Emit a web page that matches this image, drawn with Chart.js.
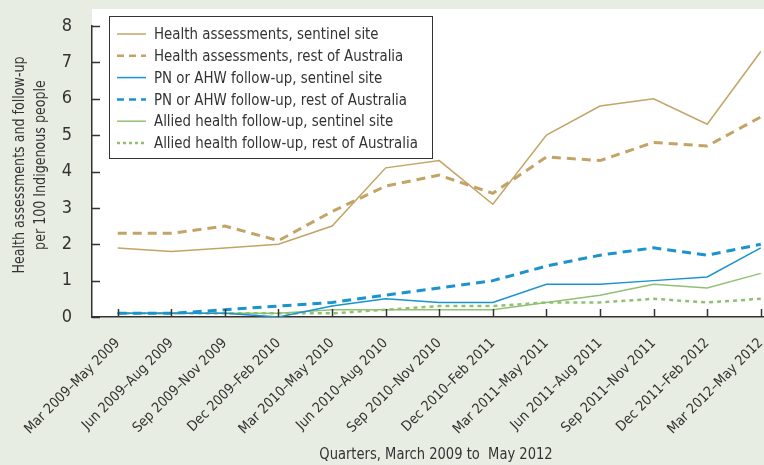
<!DOCTYPE html>
<html>
<head>
<meta charset="utf-8">
<script src="https://cdn.jsdelivr.net/npm/chart.js@4/dist/chart.umd.min.js"></script>
<style>
html,body{margin:0;padding:0;background:#e8ede3;}
canvas{display:block;}
</style>
</head>
<body>
<canvas id="c" width="764" height="465"></canvas>
<script>
const categories = ["Mar 2009\u2013May 2009","Jun 2009\u2013Aug 2009","Sep 2009\u2013Nov 2009","Dec 2009\u2013Feb 2010","Mar 2010\u2013May 2010","Jun 2010\u2013Aug 2010","Sep 2010\u2013Nov 2010","Dec 2010\u2013Feb 2011","Mar 2011\u2013May 2011","Jun 2011\u2013Aug 2011","Sep 2011\u2013Nov 2011","Dec 2011\u2013Feb 2012","Mar 2012\u2013May 2012"];
const healthSentinel = [1.9,1.8,1.9,2.0,2.5,4.1,4.3,3.1,5.0,5.8,6.0,5.3,7.3];
const healthRest     = [2.3,2.3,2.5,2.1,2.9,3.6,3.9,3.4,4.4,4.3,4.8,4.7,5.5];
const pnSentinel     = [0.1,0.1,0.1,0.0,0.3,0.5,0.4,0.4,0.9,0.9,1.0,1.1,1.9];
const pnRest         = [0.1,0.1,0.2,0.3,0.4,0.6,0.8,1.0,1.4,1.7,1.9,1.7,2.0];
const alliedSentinel = [0.1,0.1,0.1,0.1,0.2,0.2,0.2,0.2,0.4,0.6,0.9,0.8,1.2];
const alliedRest     = [0.1,0.1,0.1,0.1,0.1,0.2,0.3,0.3,0.4,0.4,0.5,0.4,0.5];
const yTicks = [0,1,2,3,4,5,6,7,8];
const seriesLabels = ["Health assessments, sentinel site","Health assessments, rest of Australia","PN or AHW follow-up, sentinel site","PN or AHW follow-up, rest of Australia","Allied health follow-up, sentinel site","Allied health follow-up, rest of Australia"];
const xTitle = "Quarters, March 2009 to  May 2012";
const yTitle = ["Health assessments and follow-up","per 100 Indigenous people"];

const FONT = "'Liberation Sans Narrow','DejaVu Sans Condensed','Roboto Condensed',sans-serif";
const TAN = '#c3a466', BLUE = '#1a93cf', GREEN = '#92c073', INK = '#333333', BG = '#e8ede3';

function pts(arr){ return arr.map((v,i)=>({x:i,y:v})); }
const styles = [
  {c:TAN, w:1.5, d:[]},
  {c:TAN, w:3, d:[9,6]},
  {c:BLUE, w:1.5, d:[]},
  {c:BLUE, w:3, d:[9,6]},
  {c:GREEN, w:1.5, d:[]},
  {c:GREEN, w:2.5, d:[4,4]}
];
const series = [healthSentinel, healthRest, pnSentinel, pnRest, alliedSentinel, alliedRest];
const datasets = series.map((s,i)=>({
  label: seriesLabels[i], data: pts(s), borderColor: styles[i].c, borderWidth: styles[i].w,
  borderDash: styles[i].d, pointRadius: 0, tension: 0, fill: false, borderCapStyle:'butt'
}));

function squeezedText(ctx, text, x, y, sx){
  ctx.save(); ctx.translate(x, y); ctx.scale(sx, 1); ctx.fillText(text, 0, 0); ctx.restore();
}

const decor = {
  id:'decor',
  beforeDraw(chart){
    const {ctx, chartArea:a} = chart;
    ctx.save();
    ctx.fillStyle = BG; ctx.fillRect(0,0,chart.width,chart.height);
    ctx.fillStyle = '#ffffff'; ctx.fillRect(a.left, 9, a.right-a.left, a.bottom-9);
    ctx.restore();
  },
  afterDraw(chart){
    const {ctx, chartArea:a, scales} = chart;
    ctx.save();
    // inward tick marks
    ctx.strokeStyle = INK; ctx.lineWidth = 1.5; ctx.setLineDash([]);
    yTicks.forEach(v=>{ const y = Math.round(scales.y.getPixelForValue(v))+0.5; ctx.beginPath(); ctx.moveTo(a.left, y); ctx.lineTo(a.left+8, y); ctx.stroke(); });
    categories.forEach((_,i)=>{ const x = Math.round(scales.x.getPixelForValue(i))+0.5; ctx.beginPath(); ctx.moveTo(x, a.bottom); ctx.lineTo(x, a.bottom-8); ctx.stroke(); });
    // y title
    ctx.fillStyle = INK; ctx.font = "16px " + FONT; ctx.textAlign='center'; ctx.textBaseline='middle';
    ctx.save();
    ctx.translate(30, 165); ctx.rotate(-Math.PI/2);
    squeezedText(ctx, yTitle[0], 0, -10, 0.88);
    squeezedText(ctx, yTitle[1], 0, 10.5, 0.88);
    ctx.restore();
    // x title
    squeezedText(ctx, xTitle, 436, 455, 0.91);
    // legend
    const lx=109.5, ly=16.5, lw=323, lh=142;
    ctx.fillStyle='#ffffff'; ctx.fillRect(lx,ly,lw,lh);
    ctx.strokeStyle=INK; ctx.lineWidth=1; ctx.strokeRect(lx,ly,lw,lh);
    ctx.font = "16px " + FONT; ctx.textAlign='left'; ctx.textBaseline='middle';
    chart.data.datasets.forEach((ds,i)=>{
      const y = 34 + i*21.8;
      ctx.strokeStyle = ds.borderColor; ctx.lineWidth = Math.min(ds.borderWidth, 2.5);
      ctx.setLineDash(ds.borderDash.length ? (ds.borderDash[0]>5 ? [7,5] : [3,3]) : []);
      ctx.beginPath(); ctx.moveTo(117, y); ctx.lineTo(146, y); ctx.stroke();
      ctx.setLineDash([]);
      ctx.fillStyle = INK; squeezedText(ctx, ds.label, 154, y+1, 0.93);
    });
    ctx.restore();
  }
};

new Chart(document.getElementById('c'), {
  type:'line',
  data:{datasets},
  options:{
    responsive:false, animation:false,
    layout:{padding:{top:26,right:0,left:0,bottom:0}},
    plugins:{legend:{display:false}, tooltip:{enabled:false}},
    scales:{
      x:{type:'linear', min:-0.48, max:12.06,
        afterBuildTicks(s){ s.ticks = categories.map((_,i)=>({value:i})); },
        afterFit(s){ s.height = 148; s.paddingLeft = 0; s.paddingRight = 0; },
        grid:{display:false},
        border:{display:true, color:INK, width:1.5},
        ticks:{autoSkip:false, maxRotation:45, minRotation:45, padding:10, color:INK,
          font:{family:FONT, size:14},
          callback:(v)=>categories[v]}
      },
      y:{min:0, max:8,
        afterBuildTicks(s){ s.ticks = yTicks.map(v=>({value:v})); },
        afterFit(s){ s.width = 92; s.paddingTop = 0; s.paddingBottom = 0; },
        grid:{display:false},
        border:{display:true, color:INK, width:1.5},
        ticks:{padding:12, color:INK, font:{family:FONT, size:18}}
      }
    }
  },
  plugins:[decor]
});
</script>
</body>
</html>
